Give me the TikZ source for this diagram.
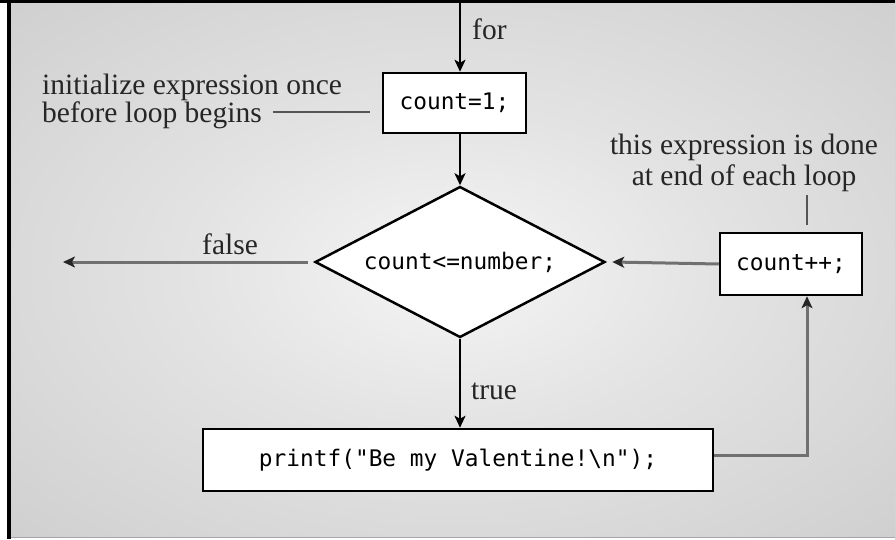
\documentclass[tikz,border=0pt]{standalone}
\usepackage{fontspec}
\setmainfont{Liberation Serif}
\newfontfamily\codefont{DejaVu Sans Mono}
\usetikzlibrary{shapes.geometric,arrows.meta}
\definecolor{arrgray}{HTML}{707070}
\definecolor{leadgray}{HTML}{555555}
\colorlet{bgA}{black!4}
\colorlet{bgB}{black!11}
\colorlet{bgC}{black!24}
\colorlet{bgD}{black!31}
\pgfdeclareradialshading{bgshade}{\pgfpoint{0bp}{0bp}}{color(0bp)=(bgA); color(15bp)=(bgB); color(50bp)=(bgC); color(71bp)=(bgD)}
\begin{document}
\begin{tikzpicture}[x=1pt,y=-1pt,
  box/.style={draw=black, line width=2.5pt, fill=white, inner sep=0pt,
    font=\codefont\fontsize{22.8}{26}\selectfont},
  lbl/.style={font=\fontsize{29.5}{29}\selectfont, text=black!85, inner sep=0pt},
  blackarr/.style={draw=black, line width=2pt,
    -{Stealth[length=12pt,width=11pt,inset=3pt]}},
  grayarr/.style={draw=arrgray, line width=3pt,
    -{Stealth[length=12pt,width=11pt,inset=3pt,color=black!85]}},
  leader/.style={draw=leadgray, line width=1.5pt}]
\useasboundingbox (0,0) rectangle (895,539);
\fill[white] (0,0) rectangle (895,539);
\shade[shading=bgshade] (11,3) rectangle (895,537);
\draw[black!35, line width=1pt] (11,537.5) -- (895,537.5);
\fill[black] (0,0) rectangle (895,3);
\fill[black] (7,0) rectangle (11,539);

% nodes
\node[box, minimum width=143pt, minimum height=60pt] (cnt) at (454.5,103) {count=1;};
\node[box, shape=diamond, aspect=1.92, minimum width=290pt, minimum height=151pt] (d) at (460,262) {count<=number;};
\node[box, minimum width=142pt, minimum height=62pt] (inc) at (791,264) {count++;};
\node[box, minimum width=510pt, minimum height=62pt] (pr) at (458,460) {printf("Be my Valentine!\textbackslash n");};

% labels
\node[lbl, anchor=base west] (forl) at (472,39) {for};
\node[lbl, anchor=base west] (falsel) at (202,254) {false};
\node[lbl, anchor=base west] (truel) at (471,399) {true};
\node[lbl, anchor=base west, align=left, font=\fontsize{29.5}{28}\selectfont] (initl) at (42,122) {initialize expression once\\before loop begins};
\node[lbl, anchor=base, align=center, font=\fontsize{29.5}{31}\selectfont] (donel) at (744,185) {this expression is done\\at end of each loop};

% free ends
\coordinate (top) at (460,3);
\coordinate (falseend) at (63,262);
\coordinate (l1) at (273,112);
\coordinate (l2) at (370,112);
\coordinate (l3) at (807,195);
\coordinate (l4) at (807,225);
\coordinate (corner) at (807,455);

% connectors
\draw[blackarr] (top) -- (top |- cnt.north);
\draw[blackarr] (d.north |- cnt.south) -- (d.north);
\draw[grayarr] ([xshift=-6pt]d.west) -- (falseend);
\draw[grayarr] (inc.west) -- ([xshift=6pt]d.east);
\draw[blackarr] (d.south) -- (d.south |- pr.north);
\draw[grayarr] (pr.east |- corner) -- (corner) -- (corner |- inc.south);
\draw[leader] (l1) -- (l2);
\draw[leader] (l3) -- (l4);
\end{tikzpicture}
\end{document}
